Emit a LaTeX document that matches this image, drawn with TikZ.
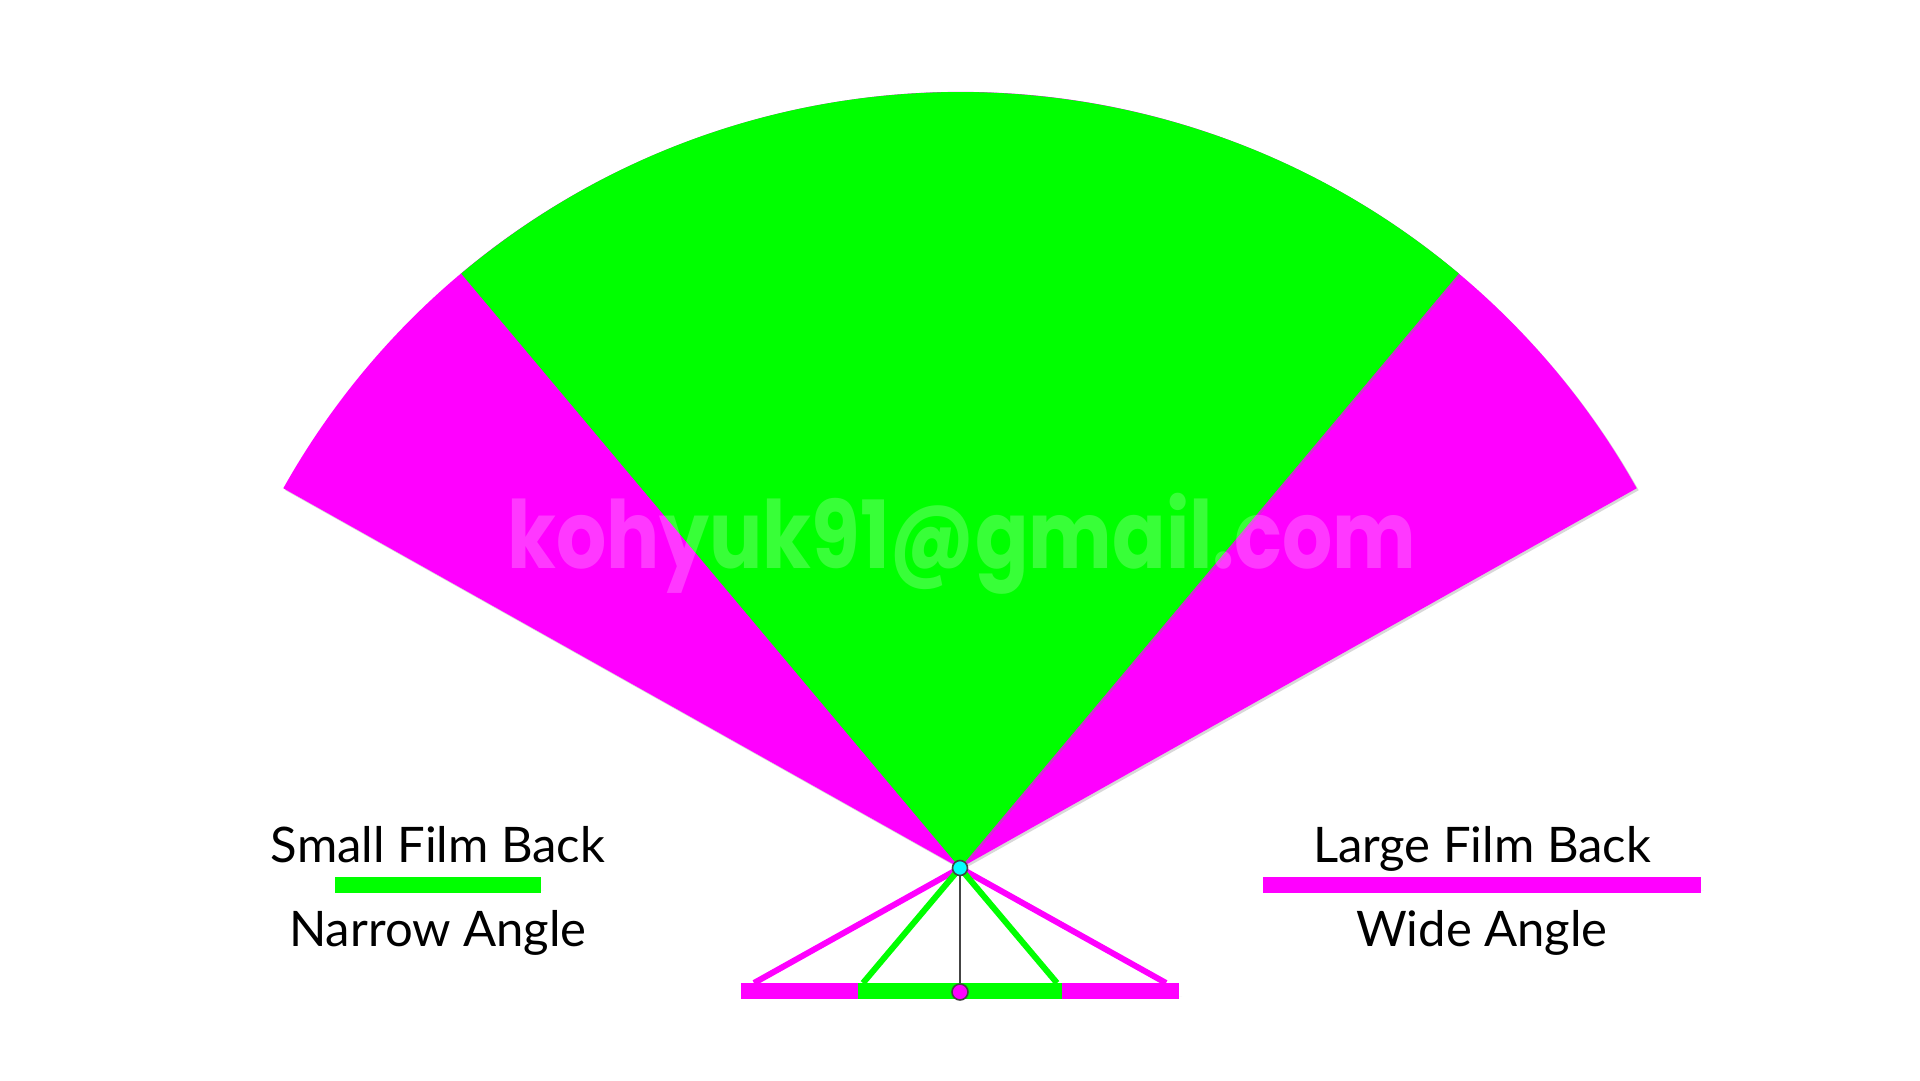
\documentclass[tikz,border=0pt]{standalone}
\usepackage{fontspec}
\setmainfont{Lato}
\newfontfamily\markfont{Poppins}
\usetikzlibrary{shadows}
\definecolor{filmgreen}{HTML}{00FF00}
\definecolor{filmpink}{HTML}{FF00FF}
\definecolor{lensblue}{HTML}{00FFFF}
\definecolor{rimgray}{HTML}{444444}

\begin{document}
\begin{tikzpicture}[x=1pt, y=1pt,
	every node/.style={font=\fontsize{49}{52}\selectfont, inner sep=0pt},
	fan/.style={drop shadow={shadow xshift=2pt, shadow yshift=-2pt, opacity=0.3}},
	bar/.style={line width=16pt, drop shadow={shadow xshift=3pt, shadow yshift=-5pt, opacity=0.3}},
	ray/.style={line width=6pt},
	dot/.style={circle, draw=rimgray, line width=1.6pt, minimum size=15pt}]
	\useasboundingbox[fill=white] (0,0) rectangle (1920,1080);
	\coordinate (lens) at (960,212);
	% fields of view
	\fill[filmpink, fan] (lens) -- ++(150.7:776) arc[start angle=150.7, end angle=29.3, radius=776pt] -- cycle;
	\fill[filmgreen, fan] (lens) -- ++(130:776) arc[start angle=130, end angle=50, radius=776pt] -- cycle;
	\node[text=white, opacity=0.22, xscale=0.84, font=\markfont\fontsize{94}{100}\selectfont\bfseries] (mark) at (962,536) {kohyuk91@gmail.com};
	% film backs
	\coordinate (largeL) at (741,89);
	\coordinate (largeR) at (1179,89);
	\coordinate (smallL) at (858,89);
	\coordinate (smallR) at (1062,89);
	\draw[filmpink, bar, line cap=butt] (largeL) -- (largeR);
	\draw[filmgreen, bar, line cap=butt] (smallL) -- (smallR);
	\coordinate (wideL) at (754,97);
	\coordinate (wideR) at (1166,97);
	\coordinate (narrowL) at (863,97);
	\coordinate (narrowR) at (1057,97);
	\draw[filmpink, ray] (wideL) -- (lens) -- (wideR);
	\draw[filmgreen, ray] (narrowL) -- (lens) -- (narrowR);
	\node[dot, fill=filmpink, minimum size=16pt] (center) at (960,88) {};
	\draw[rimgray, line width=2pt] (lens) -- (center);
	\node[dot, fill=lensblue] (lensdot) at (lens) {};
	% legend
	\node[anchor=base] (small) at (438,218) {Small Film Back};
	\coordinate (keyGL) at (335,195);
	\coordinate (keyGR) at (541,195);
	\draw[filmgreen, bar] (keyGL) -- (keyGR);
	\node[anchor=base] (narrow) at (438,134) {Narrow Angle};
	\node[anchor=base] (large) at (1482,218) {Large Film Back};
	\coordinate (keyPL) at (1263,195);
	\coordinate (keyPR) at (1701,195);
	\draw[filmpink, bar] (keyPL) -- (keyPR);
	\node[anchor=base] (wide) at (1482,134) {Wide Angle};
\end{tikzpicture}
\end{document}
